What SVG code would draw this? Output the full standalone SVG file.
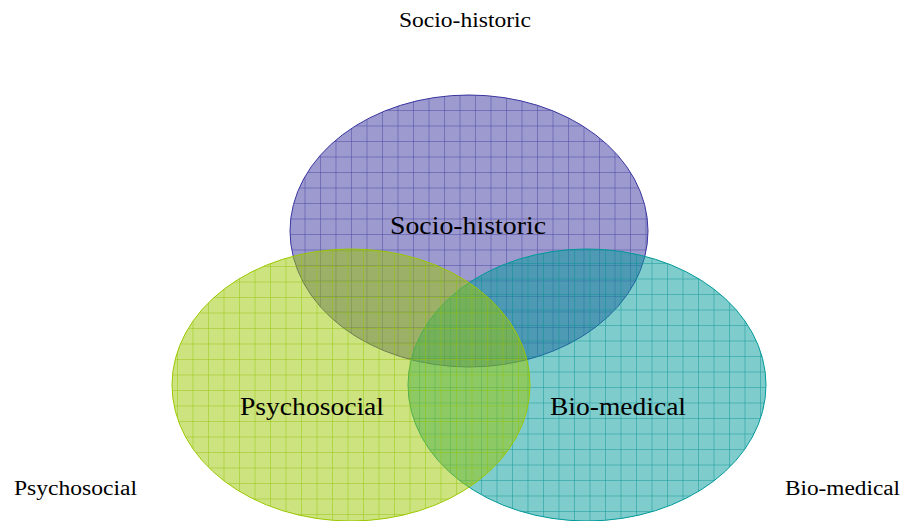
<svg xmlns="http://www.w3.org/2000/svg" width="903" height="521" viewBox="0 0 903 521">
<style>
.lbl{font-family:"Liberation Serif","DejaVu Serif",serif;fill:#000}
.out{font-size:20px}
.in{font-size:26px}
</style>
<defs>
<pattern id="gP" patternUnits="userSpaceOnUse" x="10" y="1.5" width="15.5" height="15.5">
<path d="M0 0H15.5M0 0V15.5" stroke="#2e2a96" stroke-width="1" fill="none" stroke-opacity="0.75"/>
</pattern>
<pattern id="gG" patternUnits="userSpaceOnUse" x="6.5" y="2.5" width="15.5" height="15.5">
<path d="M0 0H15.5M0 0V15.5" stroke="#8fc000" stroke-width="1" fill="none" stroke-opacity="0.85"/>
</pattern>
<pattern id="gT" patternUnits="userSpaceOnUse" x="0.5" y="15" width="15.5" height="15.5">
<path d="M0 0H15.5M0 0V15.5" stroke="#00908f" stroke-width="1" fill="none" stroke-opacity="0.85"/>
</pattern>
</defs>
<rect width="903" height="521" fill="#fff"/>
<g id="socio-historic">
<ellipse cx="469" cy="231" rx="179" ry="136" fill="#3a35a0" fill-opacity="0.5"/>
<ellipse cx="469" cy="231" rx="179" ry="136" fill="url(#gP)" stroke="#3a35a0" stroke-width="1"/>
<text class="lbl in" x="390" y="234" textLength="156" lengthAdjust="spacingAndGlyphs">Socio-historic</text>
</g>
<g id="bio-medical">
<ellipse cx="587" cy="385" rx="179" ry="136" fill="#00999a" fill-opacity="0.5"/>
<ellipse cx="587" cy="385" rx="179" ry="136" fill="url(#gT)" stroke="#009999" stroke-width="1"/>
<text class="lbl in" x="550" y="415" textLength="136" lengthAdjust="spacingAndGlyphs">Bio-medical</text>
</g>
<g id="psychosocial">
<ellipse cx="351" cy="385" rx="179" ry="136" fill="#9bc800" fill-opacity="0.5"/>
<ellipse cx="351" cy="385" rx="179" ry="136" fill="url(#gG)" stroke="#9bc800" stroke-width="1"/>
<text class="lbl in" x="240" y="415" textLength="144" lengthAdjust="spacingAndGlyphs">Psychosocial</text>
</g>
<g id="outer-labels">
<text class="lbl out" x="399" y="27" textLength="132" lengthAdjust="spacingAndGlyphs">Socio-historic</text>
<text class="lbl out" x="14" y="495" textLength="123" lengthAdjust="spacingAndGlyphs">Psychosocial</text>
<text class="lbl out" x="785" y="495" textLength="115" lengthAdjust="spacingAndGlyphs">Bio-medical</text>
</g>
<g id="connectors"></g>
</svg>
